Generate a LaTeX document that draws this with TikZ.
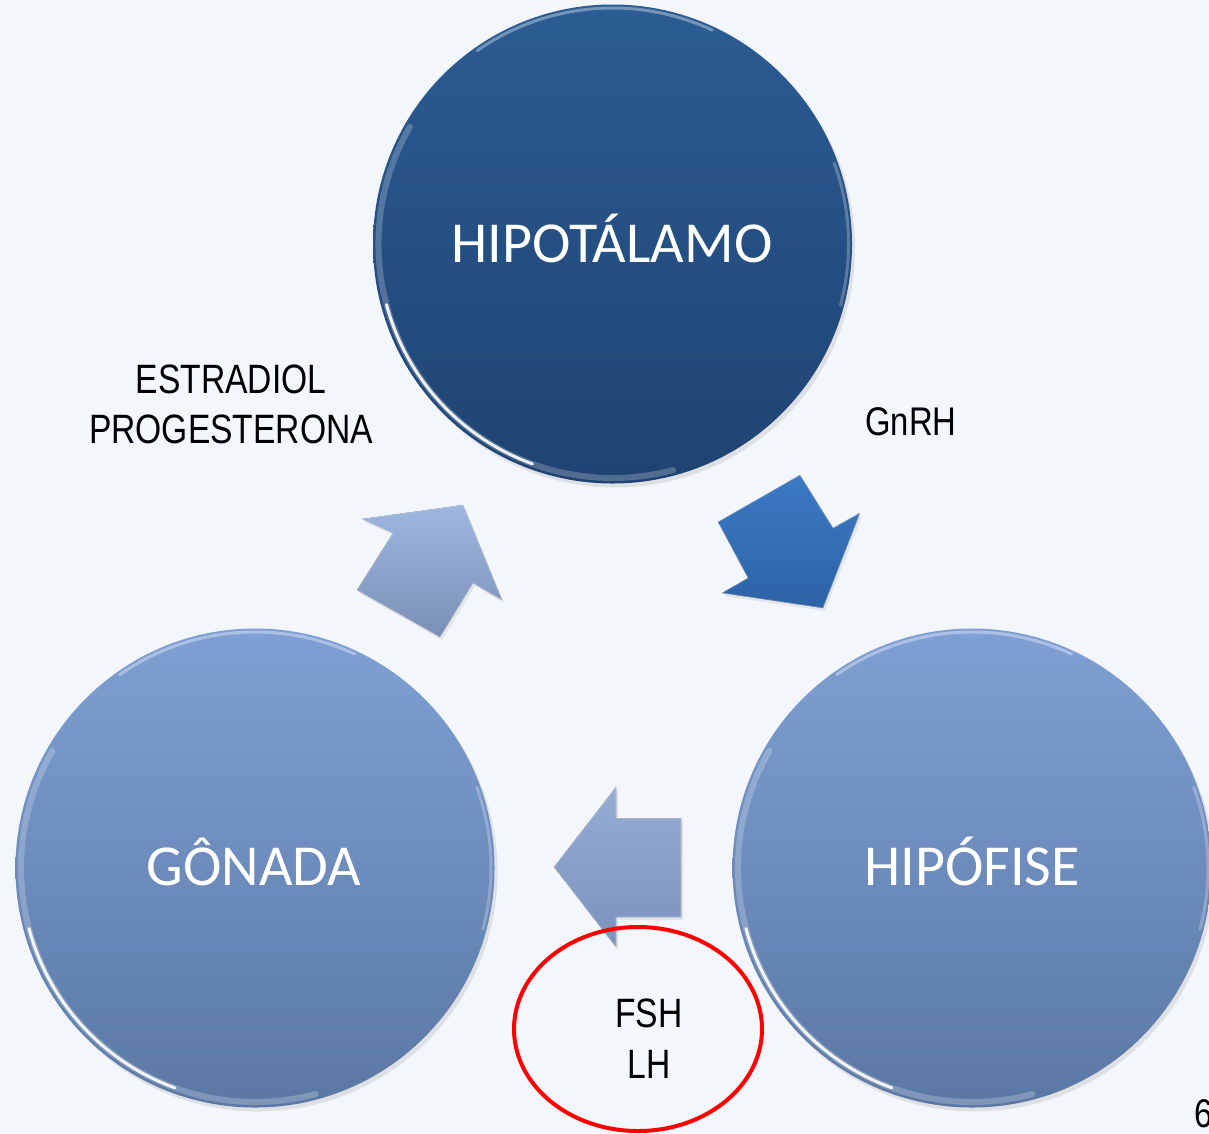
\documentclass[tikz,border=0pt]{standalone}
\usepackage{fontspec}
\setmainfont{Carlito}
\newfontfamily\narrowfont[FakeStretch=0.82]{Liberation Sans}
\usetikzlibrary{shadows}
\definecolor{bg}{RGB}{243,246,251}
\definecolor{hipTop}{RGB}{43,92,148}
\definecolor{hipBot}{RGB}{31,67,114}
\definecolor{litTop}{RGB}{127,160,212}
\definecolor{litBot}{RGB}{91,120,164}
\definecolor{arUpTop}{RGB}{158,183,224}
\definecolor{arUpBot}{RGB}{122,143,182}
\definecolor{arDnTop}{RGB}{60,122,196}
\definecolor{arDnBot}{RGB}{44,98,166}
\definecolor{arLtTop}{RGB}{150,172,212}
\definecolor{arLtBot}{RGB}{122,146,190}
\tikzset{
  organ/.style={circle, minimum size=479pt, inner sep=0pt, text=white,
    font=\fontsize{58}{70}\selectfont,
    drop shadow={opacity=0.18, shadow xshift=3pt, shadow yshift=-4pt}},
  rimsoft/.style={line width=6pt, draw=white, opacity=0.22, line cap=round},
  rimbright/.style={line width=3pt, draw=white, opacity=0.9, line cap=round},
  rimtop/.style={line width=3pt, draw=white, opacity=0.35, line cap=round},
  blockarrow/.style={draw=white, draw opacity=0.35, line width=0.8pt, line join=miter},
  label/.style={font=\narrowfont\fontsize{41}{50}\selectfont, text=black, align=center},
  circletext/.style={anchor=base, text=white, font=\fontsize{58}{70}\selectfont}
}
\newcommand{\bevel}[1]{%
  \draw[rimsoft] ([shift={(-150:234)}]#1.center) arc[start angle=-150, end angle=-285, radius=234];
  \draw[rimbright] ([shift={(-195:234)}]#1.center) arc[start angle=-195, end angle=-250, radius=234];
  \draw[rimtop] ([shift={(-65:236)}]#1.center) arc[start angle=-65, end angle=-125, radius=236];
  \draw[rimtop, opacity=0.25] ([shift={(-345:236)}]#1.center) arc[start angle=-345, end angle=-380, radius=236];
}
\begin{document}
\begin{tikzpicture}[x=1pt, y=-1pt]
\fill[bg] (0,0) rectangle (1209,1133);
\useasboundingbox (0,0) rectangle (1209,1133);

% circles
\node[organ, top color=hipTop, bottom color=hipBot] (hip) at (612.5,244) {};
\node[organ, top color=litTop, bottom color=litBot] (gon) at (255,868) {};
\node[organ, top color=litTop, bottom color=litBot] (pit) at (972,868) {};

% bevel highlights
\bevel{hip}
\bevel{gon}
\bevel{pit}

% circle texts
\node[circletext] (thip) at (612,262) {HIPOTÁLAMO};
\node[circletext] (tgon) at (254,885) {GÔNADA};
\node[circletext] (tpit) at (972,885) {HIPÓFISE};

% block arrow: gonad -> hypothalamus (up-right)
\coordinate (u1) at (463,505);
\coordinate (u2) at (362,519);
\coordinate (u3) at (393,533);
\coordinate (u4) at (357,590);
\coordinate (u5) at (440,637);
\coordinate (u6) at (473,583);
\coordinate (u7) at (502,600);
\filldraw[blockarrow, top color=arUpTop, bottom color=arUpBot,
  drop shadow={opacity=0.15, shadow xshift=2pt, shadow yshift=-3pt}]
  (u1) -- (u2) -- (u3) -- (u4) -- (u5) -- (u6) -- (u7) -- cycle;

% block arrow: hypothalamus -> pituitary (down-right)
\coordinate (d1) at (823,608);
\coordinate (d2) at (722,593);
\coordinate (d3) at (748,578);
\coordinate (d4) at (718,522);
\coordinate (d5) at (800,475);
\coordinate (d6) at (833,528);
\coordinate (d7) at (860,513);
\filldraw[blockarrow, top color=arDnTop, bottom color=arDnBot,
  drop shadow={opacity=0.15, shadow xshift=2pt, shadow yshift=-3pt}]
  (d1) -- (d2) -- (d3) -- (d4) -- (d5) -- (d6) -- (d7) -- cycle;

% block arrow: pituitary -> gonad (left)
\coordinate (l1) at (554,867);
\coordinate (l2) at (616,787);
\coordinate (l3) at (616,818);
\coordinate (l4) at (681,818);
\coordinate (l5) at (681,917);
\coordinate (l6) at (616,917);
\coordinate (l7) at (616,947);
\filldraw[blockarrow, top color=arLtTop, bottom color=arLtBot,
  drop shadow={opacity=0.15, shadow xshift=2pt, shadow yshift=-3pt}]
  (l1) -- (l2) -- (l3) -- (l4) -- (l5) -- (l6) -- (l7) -- cycle;

% labels
\node[label, anchor=base] (est) at (231,393) {ESTRADIOL};
\node[label, anchor=base] (prog) at (231,443) {PROGESTERONA};
\node[label, anchor=base, font=\narrowfont\fontsize{40}{48}\selectfont] (gnrh) at (911,435) {GnRH};
\node[label, anchor=base] (fsh) at (649,1027) {FSH};
\node[label, anchor=base] (lh) at (649,1078) {LH};

% red ellipse
\draw[red, line width=4pt] (638,1029) ellipse[x radius=124, y radius=102];

% page number (cut at the edge, as in the reference)
\node[anchor=base west, inner sep=0pt, font=\narrowfont\fontsize{40}{48}\selectfont] (pg) at (1194,1127) {6};
\end{tikzpicture}
\end{document}
